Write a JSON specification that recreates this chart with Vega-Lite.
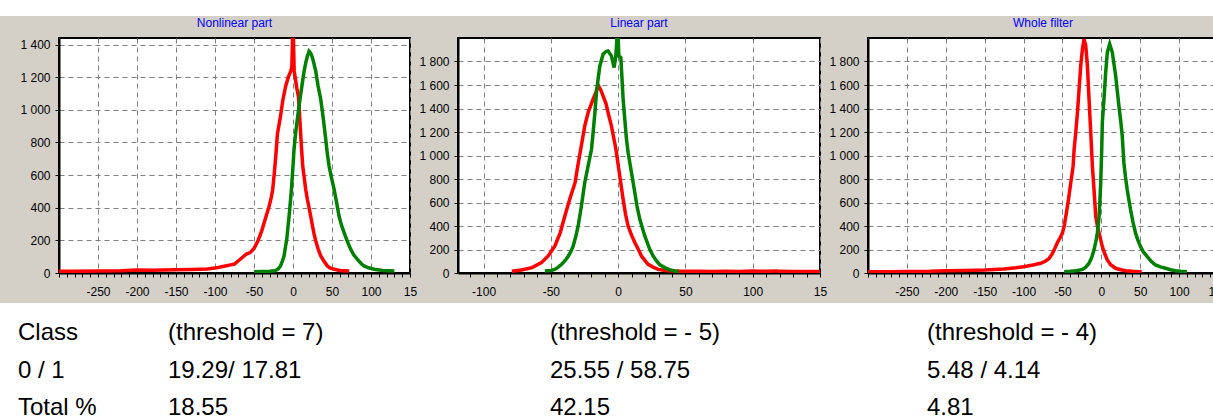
{
  "$schema": "https://vega.github.io/schema/vega-lite/v6.json",
  "padding": 0,
  "background": "#d4d0c8",
  "spacing": 0,
  "columns": 1,
  "align": "none",
  "datasets": {
    "curves": [
      {"p":"a","c":"0","x":-300,"y":10},{"p":"a","c":"0","x":-280,"y":10},{"p":"a","c":"0","x":-250,"y":12},{"p":"a","c":"0","x":-220,"y":14},{"p":"a","c":"0","x":-200,"y":18},{"p":"a","c":"0","x":-180,"y":17},{"p":"a","c":"0","x":-150,"y":20},{"p":"a","c":"0","x":-130,"y":22},{"p":"a","c":"0","x":-110,"y":25},{"p":"a","c":"0","x":-100,"y":30},{"p":"a","c":"0","x":-90,"y":40},{"p":"a","c":"0","x":-80,"y":50},{"p":"a","c":"0","x":-75,"y":55},{"p":"a","c":"0","x":-70,"y":75},{"p":"a","c":"0","x":-65,"y":95},{"p":"a","c":"0","x":-60,"y":115},{"p":"a","c":"0","x":-55,"y":125},{"p":"a","c":"0","x":-50,"y":150},{"p":"a","c":"0","x":-45,"y":196},{"p":"a","c":"0","x":-40,"y":260},{"p":"a","c":"0","x":-37,"y":308},{"p":"a","c":"0","x":-34,"y":355},{"p":"a","c":"0","x":-31,"y":402},{"p":"a","c":"0","x":-28,"y":460},{"p":"a","c":"0","x":-26,"y":512},{"p":"a","c":"0","x":-24,"y":610},{"p":"a","c":"0","x":-22,"y":720},{"p":"a","c":"0","x":-20,"y":850},{"p":"a","c":"0","x":-16,"y":961},{"p":"a","c":"0","x":-13,"y":1060},{"p":"a","c":"0","x":-9.4,"y":1145},{"p":"a","c":"0","x":-6,"y":1200},{"p":"a","c":"0","x":-3,"y":1236},{"p":"a","c":"0","x":-1.5,"y":1260},{"p":"a","c":"0","x":-0.5,"y":1450},{"p":"a","c":"0","x":0.5,"y":1450},{"p":"a","c":"0","x":1.5,"y":1240},{"p":"a","c":"0","x":3,"y":1190},{"p":"a","c":"0","x":5,"y":1130},{"p":"a","c":"0","x":7,"y":1080},{"p":"a","c":"0","x":9,"y":920},{"p":"a","c":"0","x":11,"y":757},{"p":"a","c":"0","x":12.5,"y":655},{"p":"a","c":"0","x":14.5,"y":580},{"p":"a","c":"0","x":16.3,"y":512},{"p":"a","c":"0","x":18.5,"y":450},{"p":"a","c":"0","x":20.6,"y":400},{"p":"a","c":"0","x":23,"y":340},{"p":"a","c":"0","x":25,"y":288},{"p":"a","c":"0","x":27,"y":240},{"p":"a","c":"0","x":29.2,"y":196},{"p":"a","c":"0","x":32,"y":150},{"p":"a","c":"0","x":35.6,"y":104},{"p":"a","c":"0","x":40,"y":70},{"p":"a","c":"0","x":44,"y":43},{"p":"a","c":"0","x":48,"y":30},{"p":"a","c":"0","x":53,"y":23},{"p":"a","c":"0","x":60,"y":16},{"p":"a","c":"0","x":72,"y":12},
      {"p":"a","c":"1","x":-50,"y":8},{"p":"a","c":"1","x":-40,"y":9},{"p":"a","c":"1","x":-30,"y":11},{"p":"a","c":"1","x":-23,"y":14},{"p":"a","c":"1","x":-19,"y":25},{"p":"a","c":"1","x":-16,"y":43},{"p":"a","c":"1","x":-13.5,"y":75},{"p":"a","c":"1","x":-11.5,"y":104},{"p":"a","c":"1","x":-10,"y":150},{"p":"a","c":"1","x":-8,"y":206},{"p":"a","c":"1","x":-6.5,"y":280},{"p":"a","c":"1","x":-5,"y":349},{"p":"a","c":"1","x":-3.5,"y":430},{"p":"a","c":"1","x":-2,"y":512},{"p":"a","c":"1","x":0,"y":655},{"p":"a","c":"1","x":1.3,"y":757},{"p":"a","c":"1","x":3.4,"y":859},{"p":"a","c":"1","x":5.5,"y":940},{"p":"a","c":"1","x":7.7,"y":1022},{"p":"a","c":"1","x":10,"y":1100},{"p":"a","c":"1","x":12,"y":1165},{"p":"a","c":"1","x":14,"y":1230},{"p":"a","c":"1","x":16.3,"y":1288},{"p":"a","c":"1","x":18.5,"y":1330},{"p":"a","c":"1","x":20.6,"y":1359},{"p":"a","c":"1","x":23,"y":1345},{"p":"a","c":"1","x":25,"y":1318},{"p":"a","c":"1","x":27,"y":1280},{"p":"a","c":"1","x":29.2,"y":1236},{"p":"a","c":"1","x":32,"y":1150},{"p":"a","c":"1","x":35.6,"y":1063},{"p":"a","c":"1","x":39,"y":940},{"p":"a","c":"1","x":42,"y":818},{"p":"a","c":"1","x":44,"y":730},{"p":"a","c":"1","x":46.3,"y":655},{"p":"a","c":"1","x":49,"y":590},{"p":"a","c":"1","x":52.7,"y":512},{"p":"a","c":"1","x":56,"y":430},{"p":"a","c":"1","x":59,"y":349},{"p":"a","c":"1","x":62,"y":295},{"p":"a","c":"1","x":65.5,"y":247},{"p":"a","c":"1","x":70,"y":190},{"p":"a","c":"1","x":74,"y":145},{"p":"a","c":"1","x":78,"y":110},{"p":"a","c":"1","x":82.6,"y":84},{"p":"a","c":"1","x":87,"y":60},{"p":"a","c":"1","x":91,"y":43},{"p":"a","c":"1","x":97,"y":32},{"p":"a","c":"1","x":104,"y":23},{"p":"a","c":"1","x":115,"y":16},{"p":"a","c":"1","x":130,"y":12},
      {"p":"b","c":"0","x":-79,"y":15},{"p":"b","c":"0","x":-72,"y":25},{"p":"b","c":"0","x":-64,"y":46},{"p":"b","c":"0","x":-57,"y":88},{"p":"b","c":"0","x":-52,"y":145},{"p":"b","c":"0","x":-47,"y":230},{"p":"b","c":"0","x":-43,"y":344},{"p":"b","c":"0","x":-39.6,"y":485},{"p":"b","c":"0","x":-36,"y":627},{"p":"b","c":"0","x":-32,"y":770},{"p":"b","c":"0","x":-30,"y":911},{"p":"b","c":"0","x":-27.8,"y":1053},{"p":"b","c":"0","x":-24.8,"y":1252},{"p":"b","c":"0","x":-22.3,"y":1366},{"p":"b","c":"0","x":-18.6,"y":1480},{"p":"b","c":"0","x":-16.5,"y":1540},{"p":"b","c":"0","x":-14.9,"y":1600},{"p":"b","c":"0","x":-13,"y":1560},{"p":"b","c":"0","x":-11.2,"y":1507},{"p":"b","c":"0","x":-9,"y":1440},{"p":"b","c":"0","x":-7.5,"y":1366},{"p":"b","c":"0","x":-5,"y":1252},{"p":"b","c":"0","x":-2.1,"y":1081},{"p":"b","c":"0","x":-1.3,"y":1025},{"p":"b","c":"0","x":1.2,"y":826},{"p":"b","c":"0","x":3.7,"y":627},{"p":"b","c":"0","x":5.5,"y":500},{"p":"b","c":"0","x":7.4,"y":400},{"p":"b","c":"0","x":10,"y":320},{"p":"b","c":"0","x":12.4,"y":259},{"p":"b","c":"0","x":15,"y":200},{"p":"b","c":"0","x":17.3,"y":145},{"p":"b","c":"0","x":20,"y":105},{"p":"b","c":"0","x":22.3,"y":74},{"p":"b","c":"0","x":26,"y":50},{"p":"b","c":"0","x":29.7,"y":31},{"p":"b","c":"0","x":35,"y":22},{"p":"b","c":"0","x":39.6,"y":17},{"p":"b","c":"0","x":50,"y":14},{"p":"b","c":"0","x":60,"y":14},{"p":"b","c":"0","x":70,"y":13},{"p":"b","c":"0","x":80,"y":14},{"p":"b","c":"0","x":90,"y":13},{"p":"b","c":"0","x":100,"y":16},{"p":"b","c":"0","x":105,"y":14},{"p":"b","c":"0","x":110,"y":14},{"p":"b","c":"0","x":118,"y":18},{"p":"b","c":"0","x":120,"y":14},{"p":"b","c":"0","x":130,"y":13},{"p":"b","c":"0","x":140,"y":13},{"p":"b","c":"0","x":150,"y":12},
      {"p":"b","c":"1","x":-54.5,"y":17},{"p":"b","c":"1","x":-50,"y":22},{"p":"b","c":"1","x":-47,"y":31},{"p":"b","c":"1","x":-44.5,"y":50},{"p":"b","c":"1","x":-42,"y":74},{"p":"b","c":"1","x":-39.5,"y":105},{"p":"b","c":"1","x":-37,"y":145},{"p":"b","c":"1","x":-35,"y":185},{"p":"b","c":"1","x":-33.4,"y":230},{"p":"b","c":"1","x":-31.5,"y":310},{"p":"b","c":"1","x":-29.7,"y":400},{"p":"b","c":"1","x":-27.3,"y":570},{"p":"b","c":"1","x":-24.8,"y":770},{"p":"b","c":"1","x":-22.3,"y":911},{"p":"b","c":"1","x":-19.8,"y":1053},{"p":"b","c":"1","x":-18.6,"y":1195},{"p":"b","c":"1","x":-17.3,"y":1360},{"p":"b","c":"1","x":-16.1,"y":1536},{"p":"b","c":"1","x":-14.8,"y":1660},{"p":"b","c":"1","x":-13.6,"y":1762},{"p":"b","c":"1","x":-11.2,"y":1862},{"p":"b","c":"1","x":-9,"y":1885},{"p":"b","c":"1","x":-7.5,"y":1890},{"p":"b","c":"1","x":-5,"y":1848},{"p":"b","c":"1","x":-3,"y":1749},{"p":"b","c":"1","x":-1.7,"y":1848},{"p":"b","c":"1","x":-0.8,"y":2010},{"p":"b","c":"1","x":0,"y":2010},{"p":"b","c":"1","x":0.5,"y":1848},{"p":"b","c":"1","x":2,"y":1834},{"p":"b","c":"1","x":3.7,"y":1480},{"p":"b","c":"1","x":5,"y":1300},{"p":"b","c":"1","x":6.2,"y":1138},{"p":"b","c":"1","x":7.4,"y":1025},{"p":"b","c":"1","x":9.9,"y":855},{"p":"b","c":"1","x":12.4,"y":684},{"p":"b","c":"1","x":14,"y":570},{"p":"b","c":"1","x":16.1,"y":457},{"p":"b","c":"1","x":19.8,"y":315},{"p":"b","c":"1","x":23.5,"y":202},{"p":"b","c":"1","x":26,"y":145},{"p":"b","c":"1","x":28.5,"y":102},{"p":"b","c":"1","x":31,"y":70},{"p":"b","c":"1","x":34.6,"y":46},{"p":"b","c":"1","x":38,"y":28},{"p":"b","c":"1","x":42,"y":17},{"p":"b","c":"1","x":45,"y":14},
      {"p":"c","c":"0","x":-300,"y":10},{"p":"c","c":"0","x":-270,"y":11},{"p":"c","c":"0","x":-250,"y":12},{"p":"c","c":"0","x":-220,"y":15},{"p":"c","c":"0","x":-200,"y":20},{"p":"c","c":"0","x":-175,"y":22},{"p":"c","c":"0","x":-150,"y":26},{"p":"c","c":"0","x":-125,"y":35},{"p":"c","c":"0","x":-110,"y":45},{"p":"c","c":"0","x":-100,"y":54},{"p":"c","c":"0","x":-88,"y":68},{"p":"c","c":"0","x":-78,"y":83},{"p":"c","c":"0","x":-72,"y":100},{"p":"c","c":"0","x":-67,"y":125},{"p":"c","c":"0","x":-63,"y":165},{"p":"c","c":"0","x":-60.6,"y":197},{"p":"c","c":"0","x":-56.4,"y":260},{"p":"c","c":"0","x":-53,"y":300},{"p":"c","c":"0","x":-50,"y":339},{"p":"c","c":"0","x":-47.5,"y":410},{"p":"c","c":"0","x":-45.7,"y":481},{"p":"c","c":"0","x":-44,"y":550},{"p":"c","c":"0","x":-42.3,"y":624},{"p":"c","c":"0","x":-40.7,"y":700},{"p":"c","c":"0","x":-39.3,"y":767},{"p":"c","c":"0","x":-37.7,"y":840},{"p":"c","c":"0","x":-36.3,"y":909},{"p":"c","c":"0","x":-35,"y":1051},{"p":"c","c":"0","x":-32.9,"y":1194},{"p":"c","c":"0","x":-30.7,"y":1365},{"p":"c","c":"0","x":-28.6,"y":1564},{"p":"c","c":"0","x":-26.5,"y":1763},{"p":"c","c":"0","x":-24.3,"y":1906},{"p":"c","c":"0","x":-22.2,"y":1990},{"p":"c","c":"0","x":-20,"y":1934},{"p":"c","c":"0","x":-17.9,"y":1763},{"p":"c","c":"0","x":-15.8,"y":1479},{"p":"c","c":"0","x":-13.6,"y":1194},{"p":"c","c":"0","x":-11.5,"y":909},{"p":"c","c":"0","x":-9.4,"y":709},{"p":"c","c":"0","x":-7.2,"y":481},{"p":"c","c":"0","x":-5,"y":400},{"p":"c","c":"0","x":-2.9,"y":339},{"p":"c","c":"0","x":1.3,"y":225},{"p":"c","c":"0","x":4,"y":170},{"p":"c","c":"0","x":7.7,"y":111},{"p":"c","c":"0","x":12,"y":70},{"p":"c","c":"0","x":18.4,"y":40},{"p":"c","c":"0","x":25,"y":28},{"p":"c","c":"0","x":31.3,"y":20},{"p":"c","c":"0","x":40,"y":14},{"p":"c","c":"0","x":48.3,"y":11},{"p":"c","c":"0","x":52,"y":12},
      {"p":"c","c":"1","x":-47.8,"y":11},{"p":"c","c":"1","x":-40,"y":14},{"p":"c","c":"1","x":-32,"y":20},{"p":"c","c":"1","x":-24.3,"y":31},{"p":"c","c":"1","x":-20,"y":50},{"p":"c","c":"1","x":-15.8,"y":83},{"p":"c","c":"1","x":-12.5,"y":130},{"p":"c","c":"1","x":-9.4,"y":197},{"p":"c","c":"1","x":-7,"y":270},{"p":"c","c":"1","x":-5.1,"y":339},{"p":"c","c":"1","x":-2.9,"y":481},{"p":"c","c":"1","x":-1.8,"y":620},{"p":"c","c":"1","x":-0.8,"y":767},{"p":"c","c":"1","x":0.5,"y":1051},{"p":"c","c":"1","x":1.3,"y":1285},{"p":"c","c":"1","x":3.4,"y":1479},{"p":"c","c":"1","x":5.6,"y":1707},{"p":"c","c":"1","x":7.7,"y":1878},{"p":"c","c":"1","x":10.7,"y":1949},{"p":"c","c":"1","x":14.1,"y":1878},{"p":"c","c":"1","x":16,"y":1790},{"p":"c","c":"1","x":18.4,"y":1680},{"p":"c","c":"1","x":20.5,"y":1550},{"p":"c","c":"1","x":22.6,"y":1421},{"p":"c","c":"1","x":25,"y":1290},{"p":"c","c":"1","x":26.9,"y":1165},{"p":"c","c":"1","x":29,"y":937},{"p":"c","c":"1","x":31,"y":820},{"p":"c","c":"1","x":33.3,"y":709},{"p":"c","c":"1","x":35.5,"y":620},{"p":"c","c":"1","x":37.6,"y":538},{"p":"c","c":"1","x":40.5,"y":440},{"p":"c","c":"1","x":44,"y":339},{"p":"c","c":"1","x":47,"y":280},{"p":"c","c":"1","x":50.4,"y":225},{"p":"c","c":"1","x":54,"y":180},{"p":"c","c":"1","x":59,"y":139},{"p":"c","c":"1","x":64,"y":100},{"p":"c","c":"1","x":69.6,"y":68},{"p":"c","c":"1","x":76,"y":52},{"p":"c","c":"1","x":82.5,"y":40},{"p":"c","c":"1","x":89,"y":28},{"p":"c","c":"1","x":95.3,"y":20},{"p":"c","c":"1","x":102,"y":14},{"p":"c","c":"1","x":110,"y":11}
    ],
    "table": [
      {"row":0,"col":0,"text":"Class"},{"row":0,"col":1,"text":"(threshold = 7)"},{"row":0,"col":2,"text":"(threshold = - 5)"},{"row":0,"col":3,"text":"(threshold = - 4)"},
      {"row":1,"col":0,"text":"0 / 1"},{"row":1,"col":1,"text":"19.29/ 17.81"},{"row":1,"col":2,"text":"25.55 / 58.75"},{"row":1,"col":3,"text":"5.48 / 4.14"},
      {"row":2,"col":0,"text":"Total %"},{"row":2,"col":1,"text":"18.55"},{"row":2,"col":2,"text":"42.15"},{"row":2,"col":3,"text":"4.81"}
    ]
  },
  "config": {
    "view": {"fill": "white", "stroke": "black", "strokeWidth": 2},
    "axis": {
      "domainColor": "black", "domainWidth": 2,
      "grid": true, "gridColor": "#808080", "gridDash": [5, 4], "gridWidth": 1, "gridOpacity": 1,
      "tickColor": "black", "tickSize": 4, "tickWidth": 1,
      "labelColor": "black", "labelFont": "Liberation Sans", "labelFontSize": 12,
      "labelOverlap": false, "labelFlush": false, "title": null
    },
    "title": {"color": "#0000ff", "font": "Liberation Sans", "fontSize": 12, "fontWeight": "normal", "offset": 8}
  },
  "concat": [
    {
      "width": 1220, "height": 16,
      "data": {"values": [{}]},
      "mark": {"type": "text"},
      "encoding": {"text": {"value": ""}},
      "view": {"fill": "white", "stroke": null}
    },
    {
      "hconcat": [
        {
          "width": 11, "height": 235,
          "data": {"values": [{}]},
          "mark": {"type": "text"},
          "encoding": {"text": {"value": ""}},
          "view": {"fill": null, "stroke": null}
        },
        {
          "title": "Nonlinear part",
          "width": 351, "height": 235,
          "data": {"name": "curves"},
          "transform": [{"filter": "datum.p === 'a'"}],
          "mark": {"type": "line", "strokeWidth": 3.5, "clip": true},
          "encoding": {
            "x": {"field": "x", "type": "quantitative",
              "scale": {"domain": [-300, 150], "nice": false, "zero": false},
              "axis": {"values": [-300,-290,-280,-270,-260,-250,-240,-230,-220,-210,-200,-190,-180,-170,-160,-150,-140,-130,-120,-110,-100,-90,-80,-70,-60,-50,-40,-30,-20,-10,0,10,20,30,40,50,60,70,80,90,100,110,120,130,140,150],
                "labelExpr": "datum.value % 50 === 0 && datum.value > -300 ? (datum.value === 150 ? '15' : '' + datum.value) : ''",
                "gridOpacity": {"condition": {"test": "datum.value % 50 === 0", "value": 1}, "value": 0},
                "labelPadding": 9, "minExtent": 29, "maxExtent": 29}},
            "y": {"field": "y", "type": "quantitative",
              "scale": {"domain": [0, 1440], "nice": false},
              "axis": {"values": [0,200,400,600,800,1000,1200,1400],
                "labelExpr": "replace(format(datum.value, ','), ',', ' ')",
                "labelPadding": 5}},
            "color": {"field": "c", "type": "nominal", "scale": {"domain": ["0", "1"], "range": ["#ff0000", "#008000"]}, "legend": null}
          }
        },
        {
          "title": "Linear part",
          "width": 362, "height": 235,
          "data": {"name": "curves"},
          "transform": [{"filter": "datum.p === 'b'"}],
          "mark": {"type": "line", "strokeWidth": 3.5, "clip": true},
          "encoding": {
            "x": {"field": "x", "type": "quantitative",
              "scale": {"domain": [-119, 150], "nice": false, "zero": false},
              "axis": {"values": [-110,-100,-90,-80,-70,-60,-50,-40,-30,-20,-10,0,10,20,30,40,50,60,70,80,90,100,110,120,130,140,150],
                "labelExpr": "datum.value % 50 === 0 ? (datum.value === 150 ? '15' : '' + datum.value) : ''",
                "gridOpacity": {"condition": {"test": "datum.value % 50 === 0", "value": 1}, "value": 0},
                "labelPadding": 9, "minExtent": 29, "maxExtent": 29}},
            "y": {"field": "y", "type": "quantitative",
              "scale": {"domain": [0, 2000], "nice": false},
              "axis": {"values": [0,200,400,600,800,1000,1200,1400,1600,1800],
                "labelExpr": "replace(format(datum.value, ','), ',', ' ')",
                "labelPadding": 5}},
            "color": {"field": "c", "type": "nominal", "scale": {"domain": ["0", "1"], "range": ["#ff0000", "#008000"]}, "legend": null}
          }
        },
        {
          "title": "Whole filter",
          "width": 350, "height": 235,
          "data": {"name": "curves"},
          "transform": [{"filter": "datum.p === 'c'"}],
          "mark": {"type": "line", "strokeWidth": 3.5, "clip": true},
          "encoding": {
            "x": {"field": "x", "type": "quantitative",
              "scale": {"domain": [-300, 150], "nice": false, "zero": false},
              "axis": {"values": [-300,-290,-280,-270,-260,-250,-240,-230,-220,-210,-200,-190,-180,-170,-160,-150,-140,-130,-120,-110,-100,-90,-80,-70,-60,-50,-40,-30,-20,-10,0,10,20,30,40,50,60,70,80,90,100,110,120,130,140,150],
                "labelExpr": "datum.value % 50 === 0 && datum.value > -300 ? '' + datum.value : ''",
                "gridOpacity": {"condition": {"test": "datum.value % 50 === 0", "value": 1}, "value": 0},
                "labelPadding": 9, "minExtent": 29, "maxExtent": 29}},
            "y": {"field": "y", "type": "quantitative",
              "scale": {"domain": [0, 2000], "nice": false},
              "axis": {"values": [0,200,400,600,800,1000,1200,1400,1600,1800],
                "labelExpr": "replace(format(datum.value, ','), ',', ' ')",
                "labelPadding": 5}},
            "color": {"field": "c", "type": "nominal", "scale": {"domain": ["0", "1"], "range": ["#ff0000", "#008000"]}, "legend": null}
          }
        }
      ],
      "spacing": 48,
      "bounds": "flush"
    },
    {
      "width": 1220, "height": 117,
      "data": {"name": "table"},
      "mark": {"type": "text", "align": "left", "baseline": "alphabetic", "fontSize": 24, "font": "Liberation Sans", "color": "black"},
      "encoding": {
        "x": {"field": "col", "type": "quantitative", "scale": {"domain": [0, 1, 2, 3], "range": [18, 168, 550, 927]}, "axis": null},
        "y": {"field": "row", "type": "quantitative", "scale": {"domain": [0, 2], "range": [37, 112], "nice": false, "zero": false}, "axis": null},
        "text": {"field": "text"}
      },
      "view": {"fill": "white", "stroke": null}
    }
  ]
}
